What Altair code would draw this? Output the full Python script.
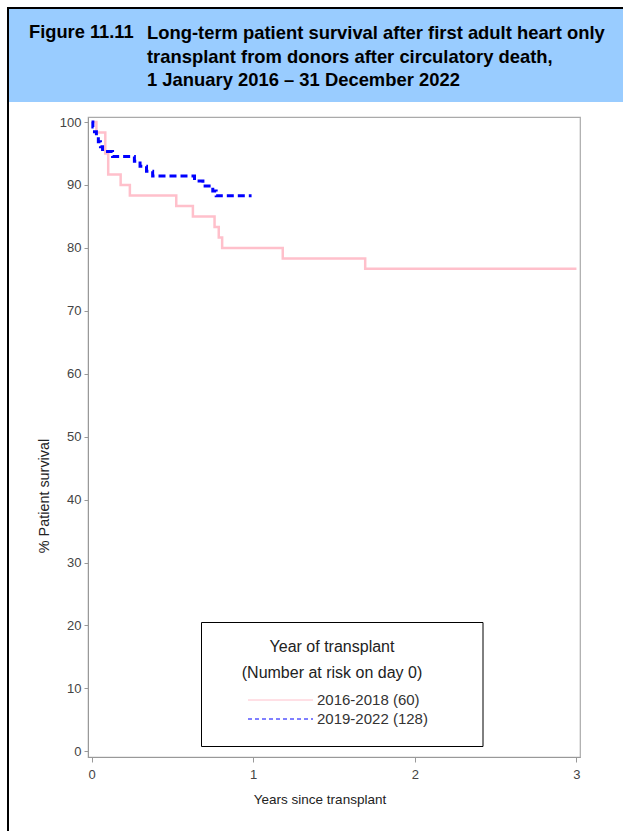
import altair as alt
import pandas as pd

# Kaplan-Meier step points, 2016-2018 cohort (n=60)
t_early = [0, 0.03, 0.085, 0.103, 0.18, 0.237, 0.524, 0.627, 0.761, 0.787, 0.808, 1.183, 1.693, 3.0]
s_early = [100, 98.33, 95.0, 91.67, 90.0, 88.33, 86.67, 85.0, 83.33, 81.67, 80.0, 78.33, 76.67, 76.67]

# Kaplan-Meier step points, 2019-2022 cohort (n=128)
t_late = [0, 0.008, 0.018, 0.03, 0.042, 0.055, 0.068, 0.13, 0.265, 0.30, 0.34, 0.378, 0.637, 0.689, 0.75, 0.771, 0.99]
s_late = [100, 99.22, 98.44, 97.66, 96.88, 96.09, 95.31, 94.53, 93.75, 92.97, 92.19, 91.41, 90.63, 89.84, 89.06, 88.28, 88.28]

series_names = ["2016-2018 (60)", "2019-2022 (128)"]
series_colors = ["#FFC0CB", "#0000FF"]

title_label = "Figure 11.11"
title_lines = [
    "Long-term patient survival after first adult heart only",
    "transplant from donors after circulatory death,",
    "1 January 2016 \u2013 31 December 2022",
]
legend_title = ["Year of transplant", "(Number at risk on day 0)"]
x_title = "Years since transplant"
y_title = "% Patient survival"

x_ticks = [0, 1, 2, 3]
y_ticks = list(range(0, 101, 10))

df_early = pd.DataFrame({"t": t_early, "s": s_early, "group": series_names[0]})
df_late = pd.DataFrame({"t": t_late, "s": s_late, "group": series_names[1]})

FONT = "Liberation Sans"
one = alt.Data(values=[{}])

xs = alt.Scale(domain=[-0.022, 3.022], nice=False, zero=False)
ys = alt.Scale(domain=[-0.9, 100.8], nice=False, zero=False)

x_axis = alt.Axis(values=x_ticks, format="d", title=None, grid=False,
                  domainColor="#999999", tickColor="#999999", tickSize=5,
                  labelColor="#444444", labelFontSize=13, labelFont=FONT, labelPadding=6)
y_axis = alt.Axis(values=y_ticks, format="d", title=None, grid=False,
                  domainColor="#999999", tickColor="#999999", tickSize=4,
                  labelColor="#444444", labelFontSize=13, labelFont=FONT, labelPadding=3)

early = alt.Chart(df_early).mark_line(
    interpolate="step-after", color=series_colors[0], strokeWidth=2.5
).encode(x=alt.X("t:Q", scale=xs, axis=x_axis), y=alt.Y("s:Q", scale=ys, axis=y_axis))

late = alt.Chart(df_late).mark_line(
    interpolate="step-after", color=series_colors[1], strokeWidth=3, strokeDash=[7, 4]
).encode(x=alt.X("t:Q", scale=xs), y=alt.Y("s:Q", scale=ys))

# Axis titles
x_title_mark = alt.Chart(one).mark_text(
    text=x_title, font=FONT, fontSize=13.5, align="center", baseline="middle",
    color="#222222").encode(x=alt.value(232), y=alt.value(683))
y_title_mark = alt.Chart(one).mark_text(
    text=y_title, font=FONT, fontSize=14.4, align="center", baseline="middle", angle=270,
    color="#222222").encode(x=alt.value(-43), y=alt.value(379))

# Heading band and outer frame (pixel positions relative to plot origin)
band = alt.Chart(one).mark_rect(color="#99CCFF").encode(
    x=alt.value(-79), x2=alt.value(535), y=alt.value(-108), y2=alt.value(-15))
frame_left = alt.Chart(one).mark_rule(color="black", strokeWidth=2).encode(
    x=alt.value(-80), y=alt.value(-110), y2=alt.value(714))
frame_top = alt.Chart(one).mark_rule(color="black", strokeWidth=2).encode(
    x=alt.value(-81), x2=alt.value(535), y=alt.value(-109))

head_label = alt.Chart(one).mark_text(
    text=title_label, font=FONT, fontSize=18.3, fontWeight="bold", align="left",
    baseline="middle", color="black").encode(x=alt.value(-59), y=alt.value(-84))
head_rows = []
for i, line in enumerate(title_lines):
    head_rows.append(alt.Chart(one).mark_text(
        text=line, font=FONT, fontSize=18.4, fontWeight="bold", align="left",
        baseline="middle", color="black").encode(x=alt.value(59), y=alt.value(-84 + 23.5 * i)))

# Legend box
leg_box = alt.Chart(one).mark_rect(fill="white", stroke="black", strokeWidth=1).encode(
    x=alt.value(113.5), x2=alt.value(395), y=alt.value(505.5), y2=alt.value(629.5))
leg_titles = []
for i, line in enumerate(legend_title):
    leg_titles.append(alt.Chart(one).mark_text(
        text=line, font=FONT, fontSize=16, align="center", baseline="middle",
        color="#222222").encode(x=alt.value(244), y=alt.value(530 + 26 * i)))
leg_items = []
for i, (name, col) in enumerate(zip(series_names, series_colors)):
    dash = [4, 3] if i == 1 else [1, 0]
    leg_items.append(alt.Chart(one).mark_rule(color=col, strokeWidth=1, strokeDash=dash).encode(
        x=alt.value(160), x2=alt.value(225), y=alt.value(583 + 19 * i)))
    leg_items.append(alt.Chart(one).mark_text(
        text=name, font=FONT, fontSize=15, align="left", baseline="middle",
        color="#333333").encode(x=alt.value(229), y=alt.value(583 + 19 * i)))

chart = alt.layer(
    band, frame_left, frame_top, head_label, *head_rows,
    early, late, x_title_mark, y_title_mark, leg_box, *leg_titles, *leg_items
).properties(
    width=492, height=640,
    autosize=alt.AutoSizeParams(type="none"),
    padding={"left": 88, "top": 117, "right": 43, "bottom": 74},
    background="white",
).configure_view(stroke="#aaaaaa", strokeWidth=1.2)

chart.save("out.html", embed_options={"renderer": "svg", "actions": False})
